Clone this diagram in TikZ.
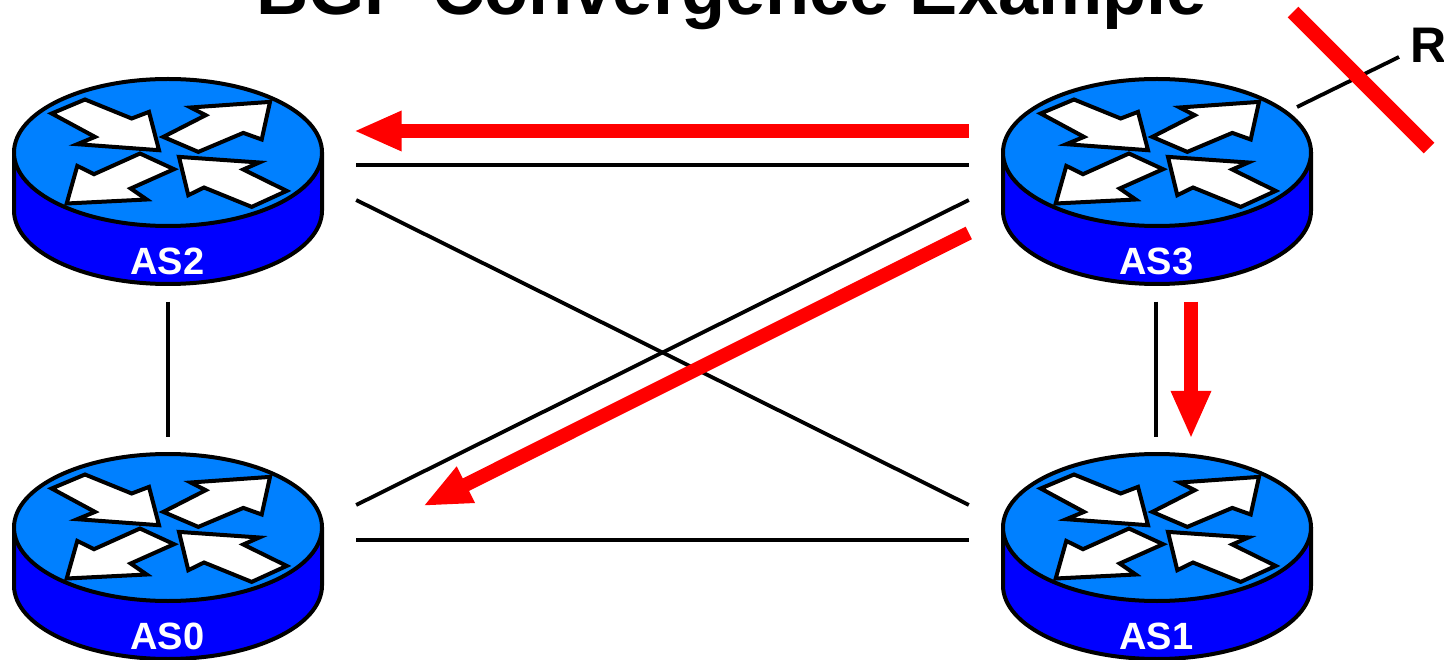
\documentclass[tikz,border=0pt]{standalone}
\usepackage{fontspec}
\setmainfont{Liberation Sans}
\usetikzlibrary{positioning,arrows.meta}
\tikzset{>=Stealth}
\definecolor{colortop}{RGB}{0,128,255}
\definecolor{colorside}{RGB}{0,0,255}
\definecolor{colorred}{RGB}{255,0,0}
\tikzset{
    link/.style={line width=3.8pt, black},
    update/.style={line width=14pt, colorred, shorten >=-2.5pt, -{Triangle[length=48pt,width=37pt]}},
    withdraw/.style={line width=15pt, colorred},
    routerline/.style={line width=4pt, black, line join=round},
    turn/.style={routerline, fill=white, line join=miter},
    routerbox/.style={minimum width=376pt, minimum height=240pt, inner sep=0pt},
    aslabel/.style={text=white, font=\bfseries\fontsize{38}{38}\selectfont}
}
% router drawn around the middle of its top disc: name, x, y
\newcommand{\router}[3]{
    \begin{scope}[shift={(#2,#3)}]
        \filldraw[routerline, fill=colorside] (-154,0) -- (-154,58) arc[start angle=180, end angle=0, x radius=154, y radius=73.5] -- (154,0) -- cycle;
        \filldraw[routerline, fill=colortop] (0,0) ellipse [x radius=154, y radius=73.5];
        \filldraw[turn] (-116.3,-39) -- (-83,-53) -- (-36.3,-34) -- (-19,-40.6) -- (-9,-2.3) -- (-90.7,-8.3) -- (-73,-15.6) -- cycle;
        \filldraw[turn] (-4.7,-15.6) -- (30.3,-0.6) -- (75.3,-19.6) -- (93.7,-13) -- (102,-50.6) -- (22.7,-45) -- (37.7,-37.3) -- cycle;
        \filldraw[turn] (6,16.7) -- (-28,1) -- (-74,21.7) -- (-90.7,13.4) -- (-101.3,51) -- (-21.3,47) -- (-37.3,36) -- cycle;
        \filldraw[turn] (11,4.4) -- (91.3,10) -- (75.3,17) -- (118.7,38.4) -- (83.7,54.4) -- (36,35) -- (20.3,42.7) -- cycle;
        \node[routerbox] (as#1) at (0,29) {};
        \node[aslabel] (label#1) at (-0.5,108.5) {AS#1};
    \end{scope}
}
\begin{document}
\begin{tikzpicture}[x=1pt, y=-1pt]
    \useasboundingbox (0,0) rectangle (1444,660);

    \node[anchor=base, font=\bfseries\fontsize{72.2}{72.2}\selectfont] (title) at (731.5,15) {BGP Convergence Example};

    \router{2}{168}{152.5}
    \router{3}{1157}{152.5}
    \router{0}{168}{527.5}
    \router{1}{1157}{527.5}

    % Links between the routers
    \draw[link] ([yshift=16.5pt]as2.east) -- ([yshift=16.5pt]as3.west);
    \draw[link] ([yshift=16.5pt]as0.east) -- ([yshift=16.5pt]as1.west);
    \draw[link] ([yshift=-18.5pt]as2.east) -- ([yshift=51.5pt]as1.west);
    \draw[link] ([yshift=-18.5pt]as3.west) -- ([yshift=51.5pt]as0.east);
    \draw[link] (as2.south) -- ([yshift=-1pt]as0.north);
    \draw[link] ([xshift=-1pt]as3.south) -- ([xshift=-1pt,yshift=-1pt]as1.north);

    % Updates sent by AS3
    \draw[update] ([yshift=50.5pt]as3.west) -- ([yshift=50.5pt]as2.east);
    \draw[update] ([yshift=-51.5pt]as3.west) -- ([shift={(69pt,51.5pt)}]as0.east);
    \draw[update] ([xshift=34pt]as3.south) -- ([xshift=34pt]as1.north);

    % Link to R, cut
    \node[anchor=base west, inner sep=0pt, font=\bfseries\fontsize{50}{50}\selectfont] (r) at (1410,63) {R};
    \coordinate (as3out) at (1297,107);
    \coordinate (rin) at (1399,57);
    \coordinate (cuta) at (1293,12);
    \coordinate (cutb) at (1429,148);
    \draw[link] (as3out) -- (rin);
    \draw[withdraw] (cuta) -- (cutb);
\end{tikzpicture}
\end{document}
